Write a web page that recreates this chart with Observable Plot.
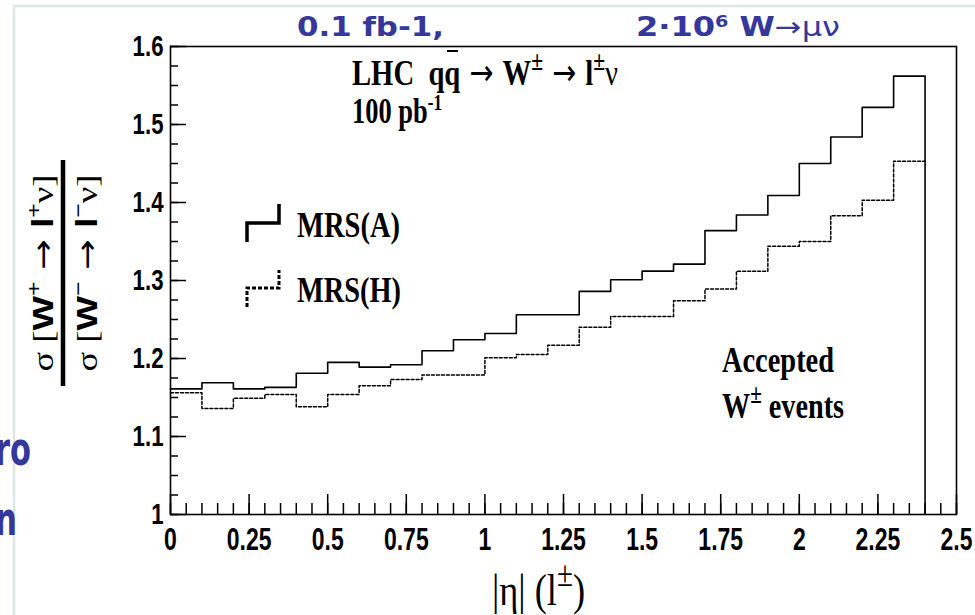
<!DOCTYPE html>
<html>
<head>
<meta charset="utf-8">
<script src="https://cdn.jsdelivr.net/npm/d3@7"></script>
<script src="https://cdn.jsdelivr.net/npm/@observablehq/plot@0.6"></script>
<style>
  html, body { margin: 0; padding: 0; background: #fff; }
  #chart { position: relative; width: 975px; height: 615px; overflow: hidden; }
</style>
</head>
<body>
<div id="chart"></div>
<script>
// ---- data ----
const binLow = [0, 0.1, 0.2, 0.3, 0.4, 0.5, 0.6, 0.7, 0.8, 0.9, 1.0, 1.1,
                1.2, 1.3, 1.4, 1.5, 1.6, 1.7, 1.8, 1.9, 2.0, 2.1, 2.2, 2.3];
const binEnd = 2.4;
const mrsA = [1.161, 1.169, 1.161, 1.163, 1.181, 1.195, 1.189, 1.192, 1.210, 1.224, 1.232, 1.256,
              1.256, 1.286, 1.301, 1.312, 1.321, 1.364, 1.384, 1.409, 1.450, 1.484, 1.522, 1.562];
const mrsH = [1.156, 1.136, 1.149, 1.154, 1.138, 1.154, 1.165, 1.173, 1.179, 1.179, 1.201, 1.205,
              1.217, 1.240, 1.254, 1.254, 1.274, 1.289, 1.312, 1.344, 1.350, 1.383, 1.403, 1.453];
const xTickValues = [0, 0.25, 0.5, 0.75, 1, 1.25, 1.5, 1.75, 2, 2.25, 2.5];
const xTickLabels = ["0", "0.25", "0.5", "0.75", "1", "1.25", "1.5", "1.75", "2", "2.25", "2.5"];
const yTickValues = [1, 1.1, 1.2, 1.3, 1.4, 1.5, 1.6];
const yTickLabels = ["1", "1.1", "1.2", "1.3", "1.4", "1.5", "1.6"];
const seriesNames = ["MRS(A)", "MRS(H)"];

// ---- build rows ----
function stepRows(vals) {
  const rows = binLow.map((x, i) => ({x, y: vals[i]}));
  rows.push({x: binEnd, y: vals[vals.length - 1]});
  return rows;
}
const rowsA = stepRows(mrsA);
const rowsH = stepRows(mrsH);

const W = 975, H = 615;
const mL = 170, mR = 19, mT = 46, mB = 101;
const frameW = W - mL - mR, frameH = H - mT - mB;
const xMinor = d3.range(0, 2.5001, 0.05);
const yMinor = d3.range(1, 1.6001, 0.025);
const tickFont = "'Liberation Sans', Arial, sans-serif";

const chart = Plot.plot({
  width: W, height: H,
  marginLeft: mL, marginRight: mR, marginTop: mT, marginBottom: mB,
  x: {domain: [0, 2.5]},
  y: {domain: [1, 1.6]},
  style: {background: "transparent", color: "#000", overflow: "visible"},
  marks: [
    Plot.tickX(xMinor, {x: d => d, insetTop: frameH - 11, strokeWidth: 1.5}),
    Plot.tickX(xTickValues, {x: d => d, insetTop: frameH - 20, strokeWidth: 1.5}),
    Plot.tickY(yMinor, {y: d => d, insetRight: frameW - 8, strokeWidth: 1.5}),
    Plot.tickY(yTickValues, {y: d => d, insetRight: frameW - 16, strokeWidth: 1.5}),
    Plot.axisX(xTickValues, {tickSize: 0, tickPadding: 13, fontSize: 31, fontWeight: "bold",
      fontFamily: tickFont, tickFormat: (d, i) => xTickLabels[i], label: null}),
    Plot.axisY(yTickValues, {tickSize: 0, tickPadding: 7, fontSize: 30, fontWeight: "bold",
      fontFamily: tickFont, tickFormat: (d, i) => yTickLabels[i], label: null}),
    Plot.line(rowsH, {x: "x", y: "y", curve: "step-after", stroke: "#000", strokeWidth: 1.5,
      strokeDasharray: "3,2"}),
    Plot.line(rowsA, {x: "x", y: "y", curve: "step-after", stroke: "#000", strokeWidth: 1.6}),
    Plot.ruleX([binEnd], {y1: 1, y2: mrsA[mrsA.length - 1], stroke: "#000", strokeWidth: 1.6}),
    Plot.frame({stroke: "#000", strokeWidth: 1.6})
  ]
});
document.getElementById("chart").appendChild(chart);

const svg = d3.select(chart);

// condense axis tick labels
svg.selectAll('g[aria-label="x-axis tick label"] text, g[aria-label="y-axis tick label"] text')
  .each(function() {
    const L = this.getComputedTextLength();
    this.setAttribute("textLength", (L * 0.74).toFixed(1));
    this.setAttribute("lengthAdjust", "spacingAndGlyphs");
  });

// slide border decorations
const deco = svg.append("g");
deco.append("path").attr("d", "M14,615 V6 H975").attr("fill", "none")
  .attr("stroke", "#dde6e6").attr("stroke-width", 2.5);

const serif = "'Liberation Serif', 'Times New Roman', serif";
const arrowFont = "'DejaVu Sans', sans-serif";
function rich(g, x, y, parts, opts) {
  const t = g.append("text").attr("x", x).attr("y", y)
    .attr("font-family", opts.family || serif)
    .attr("font-size", opts.size)
    .attr("font-weight", opts.weight || "bold")
    .attr("fill", opts.fill || "#000")
    .attr("text-anchor", opts.anchor || "start");
  parts.forEach(p => {
    const s = t.append("tspan").text(p.t);
    if (p.sup) s.attr("baseline-shift", p.shift || "super").attr("font-size", opts.size * (p.scale || 0.6));
    if (p.family) s.attr("font-family", p.family);
    if (p.weight) s.attr("font-weight", p.weight);
    if (p.size) s.attr("font-size", p.size);
  });
  if (opts.len) t.attr("textLength", opts.len).attr("lengthAdjust", "spacingAndGlyphs");
  return t;
}

const ann = svg.append("g");
const arr = {t: " \u2192 ", family: arrowFont, weight: "normal"};
rich(ann, 352, 85, [{t: "LHC  qq"}, arr, {t: "W"}, {t: "\u00B1", sup: true, scale: 0.75},
  arr, {t: "l"}, {t: "\u00B1", sup: true, scale: 0.75}, {t: "\u03BD", weight: "normal"}], {size: 36, len: 266});
ann.append("line").attr("x1", 447).attr("x2", 458).attr("y1", 51).attr("y2", 51)
  .attr("stroke", "#000").attr("stroke-width", 2);
rich(ann, 352, 123, [{t: "100 pb"}, {t: "-1", sup: true, scale: 0.65}], {size: 36, len: 90});
rich(ann, 297, 237, [{t: seriesNames[0]}], {size: 36, len: 103});
rich(ann, 297, 302, [{t: seriesNames[1]}], {size: 36, len: 104});
rich(ann, 722, 372, [{t: "Accepted"}], {size: 36, len: 112});
rich(ann, 722, 418, [{t: "W"}, {t: "\u00B1", sup: true, scale: 0.75}, {t: " events"}], {size: 36, len: 122});

// legend symbols
ann.append("path").attr("d", "M247,242 V223 H279 V204").attr("fill", "none")
  .attr("stroke", "#000").attr("stroke-width", 3.5);
ann.append("path").attr("d", "M247,307 V288 H279 V270").attr("fill", "none")
  .attr("stroke", "#000").attr("stroke-width", 3).attr("stroke-dasharray", "4,2");

// x axis title
rich(ann, 492, 605, [{t: "|\u03B7| (l"}, {t: "\u00B1", sup: true, scale: 0.8}, {t: ")"}], {size: 44, weight: "normal", len: 93});

// y axis title (fraction)
const yt = svg.append("g").attr("transform", "translate(63,273) rotate(-90)");
yt.append("line").attr("x1", -113).attr("x2", 113).attr("y1", 0).attr("y2", 0)
  .attr("stroke", "#000").attr("stroke-width", 4.5);
const sansB = "'Liberation Sans', Arial, sans-serif";
rich(yt, 0, -10, [{t: "\u03C3 [", weight: "normal"}, {t: "W", family: sansB}, {t: "+", sup: true, scale: 0.7},
  {t: " \u2192 ", family: arrowFont, weight: "normal"}, {t: "l", family: sansB}, {t: "+", sup: true, scale: 0.7},
  {t: "\u03BD]", weight: "normal"}], {size: 30, anchor: "middle", len: 197});
rich(yt, 0, 34, [{t: "\u03C3 [", weight: "normal"}, {t: "W", family: sansB}, {t: "\u2212", sup: true, scale: 0.7},
  {t: " \u2192 ", family: arrowFont, weight: "normal"}, {t: "l", family: sansB}, {t: "\u2212", sup: true, scale: 0.7},
  {t: "\u03BD]", weight: "normal"}], {size: 30, anchor: "middle", len: 197});

// blue slide header / cut-off text
const sans = "'DejaVu Sans', 'Open Sans', sans-serif";
const blue = "#35389a";
rich(ann, 297, 36, [{t: "0.1 fb-1,"}], {family: sans, size: 27, fill: blue, len: 147});
rich(ann, 636, 36, [{t: "2\u00B710"}, {t: "6", sup: true}, {t: " W"}, {t: "\u2192", weight: "normal"}, {t: "\u03BC\u03BD", weight: "normal"}],
  {family: sans, size: 27, fill: blue, len: 204});
rich(ann, 31, 465, [{t: "ro"}], {family: sans, size: 46, fill: blue, anchor: "end", len: 36});
rich(ann, 17, 535, [{t: "n"}], {family: sans, size: 46, fill: blue, anchor: "end", len: 22});
</script>
</body>
</html>
